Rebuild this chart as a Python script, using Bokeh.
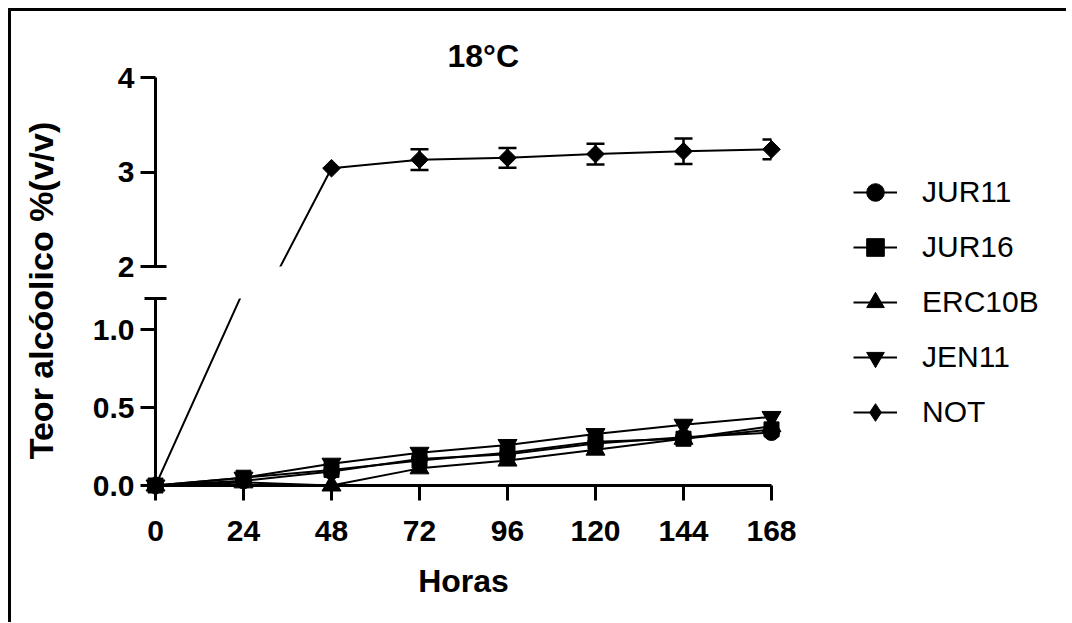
import math
from bokeh.plotting import figure
from bokeh.models import (Range1d, FixedTicker, PrintfTickFormatter, ColumnDataSource,
                          CDSView, BooleanFilter, Whisker, TeeHead, Legend, LegendItem, Label)
from bokeh.layouts import row, column
from bokeh.embed import file_html
from bokeh.resources import INLINE

# ---------------- data ----------------
hours = [0, 24, 48, 72, 96, 120, 144, 168]
jur11 = [0, 0.03, 0.09, 0.17, 0.20, 0.27, 0.31, 0.34]
jur16 = [0, 0.05, 0.10, 0.16, 0.21, 0.28, 0.30, 0.36]
erc10b = [0, 0.02, 0.00, 0.11, 0.16, 0.23, 0.30, 0.38]
jen11 = [0, 0.05, 0.14, 0.21, 0.26, 0.33, 0.39, 0.44]
not_mean = [0, 1.25, 3.04, 3.13, 3.15, 3.19, 3.22, 3.24]
not_err = [0, 0, 0, 0.11, 0.105, 0.11, 0.135, 0.105]
series_names = ["JUR11", "JUR16", "ERC10B", "JEN11", "NOT"]
x_ticks = [0, 24, 48, 72, 96, 120, 144, 168]
low_ticks = [0, 0.5, 1.0]
high_ticks = [2, 3, 4]
low_limits = (0, 1.2)
high_limits = (2, 4)
title_text = "18°C"
x_label = "Horas"
y_label = "Teor alcóolico %(v/v)"

# ---------------- style ----------------
FONT = "Liberation Sans"
TICK_FS = "30px"
styles = {
    "JUR11": ("circle", 16, 0.0),
    "JUR16": ("square", 15, 0.0),
    "ERC10B": ("triangle", 19, 0.0),
    "JEN11": ("inverted_triangle", 19, 0.0),
    "NOT": ("square", 12.5, math.pi / 4),
}
legend_markers = {"JUR11": "circle", "JUR16": "square", "ERC10B": "triangle",
                  "JEN11": "inverted_triangle", "NOT": "diamond"}
values = {"JUR11": jur11, "JUR16": jur16, "ERC10B": erc10b, "JEN11": jen11, "NOT": not_mean}


def style_axis(ax, ticks, fmt=None):
    ax.ticker = FixedTicker(ticks=ticks)
    if fmt:
        ax.formatter = PrintfTickFormatter(format=fmt)
    ax.axis_line_width = 3
    ax.major_tick_line_width = 3
    ax.major_tick_out = 15
    ax.major_tick_in = 0
    ax.minor_tick_line_color = None
    ax.major_label_text_font = FONT
    ax.major_label_text_font_style = "bold"
    ax.major_label_text_font_size = TICK_FS
    ax.major_label_text_color = "black"
    ax.axis_line_color = "black"
    ax.major_tick_line_color = "black"


x_range = Range1d(hours[0], hours[-1])

top = figure(width=729, height=271, x_range=x_range, y_range=Range1d(*high_limits),
             output_backend="svg", toolbar_location=None, x_axis_location=None,
             min_border_left=84, min_border_right=29, min_border_top=66, min_border_bottom=16)
bot = figure(width=729, height=340, x_range=x_range, y_range=Range1d(*low_limits),
             output_backend="svg", toolbar_location=None,
             min_border_left=84, min_border_right=29, min_border_top=16, min_border_bottom=137)

for f in (top, bot):
    f.grid.visible = False
    f.outline_line_color = None
    f.background_fill_color = "white"
    f.border_fill_color = "white"

style_axis(top.yaxis[0], high_ticks)
style_axis(bot.yaxis[0], low_ticks, "%.1f")
style_axis(bot.xaxis[0], x_ticks)
for ax in (top.yaxis[0], bot.yaxis[0]):
    ax.major_label_standoff = 6
xa = bot.xaxis[0]
xa.major_label_standoff = 20
xa.axis_label = x_label
xa.axis_label_text_font = FONT
xa.axis_label_text_font_style = "bold"
xa.axis_label_text_font_size = "32px"
xa.axis_label_text_color = "black"
xa.axis_label_standoff = 19

top.title.text = title_text
top.title.text_font = FONT
top.title.text_font_style = "bold"
top.title.text_font_size = "32px"
top.title.text_color = "black"
top.title.align = "left"
top.title.offset = 292
top.title.standoff = 8


def draw(fig, name, limits):
    ys = values[name]
    marker, size, angle = styles[name]
    src = ColumnDataSource(dict(x=hours, y=ys))
    fig.line("x", "y", source=src, line_color="black", line_width=2)
    mask = [limits[0] <= v <= limits[1] for v in ys]
    view = CDSView(filter=BooleanFilter(mask))
    fig.scatter("x", "y", source=src, view=view, marker=marker, size=size, angle=angle,
                fill_color="black", line_color="black", line_width=1, level="overlay")


# draw order: square on top
for name in ["NOT", "JEN11", "ERC10B", "JUR11", "JUR16"]:
    draw(bot, name, low_limits)
draw(top, "NOT", high_limits)

# error bars (NOT, visible in upper segment)
wx, wu, wl = [], [], []
for h, m, e in zip(hours, not_mean, not_err):
    if e > 0 and m >= high_limits[0]:
        wx.append(h); wu.append(m + e); wl.append(m - e)
wsrc = ColumnDataSource(dict(x=wx, upper=wu, lower=wl))
top.add_layout(Whisker(base="x", upper="upper", lower="lower", source=wsrc, dimension="height",
                       line_width=2.5, line_color="black",
                       upper_head=TeeHead(size=18, line_width=2.5, line_color="black"),
                       lower_head=TeeHead(size=18, line_width=2.5, line_color="black")))

# axis break caps
top.scatter(x=[hours[0]], y=[high_limits[0]], marker="dash", size=22, line_width=3,
            line_color="black", level="overlay")
bot.scatter(x=[hours[0]], y=[low_limits[1]], marker="dash", size=22, line_width=3,
            line_color="black", level="overlay")

# ---------------- y label figure ----------------
lab = figure(width=60, height=611, x_range=Range1d(0, 60), y_range=Range1d(0, 611),
             output_backend="svg", toolbar_location=None, x_axis_location=None,
             y_axis_location=None, min_border=0)
lab.grid.visible = False
lab.outline_line_color = None
lab.add_layout(Label(x=29, y=332, text=y_label, angle=math.pi / 2, text_align="center",
                     text_baseline="middle", text_font=FONT, text_font_style="bold",
                     text_font_size="34px", text_color="black"))

# ---------------- legend figure ----------------
# renderers carry the real series, but the figure's view lies far from the data,
# so only the legend glyphs show
leg = figure(width=266, height=611, x_range=Range1d(1000, 1001), y_range=Range1d(1000, 1001),
             output_backend="svg", toolbar_location=None, x_axis_location=None,
             y_axis_location=None, min_border=0)
leg.grid.visible = False
leg.outline_line_color = None
items = []
for name in series_names:
    src = ColumnDataSource(dict(x=hours, y=values[name]))
    lr = leg.line("x", "y", source=src, line_color="black", line_width=2)
    sr = leg.scatter("x", "y", source=src, marker=legend_markers[name], size=17,
                     fill_color="black", line_color="black")
    items.append(LegendItem(label=name, renderers=[lr, sr]))
legend = Legend(items=items, location=(53, 188), glyph_width=44, glyph_height=44,
                label_height=44, spacing=11, label_standoff=25, padding=0, margin=0,
                border_line_color=None, background_fill_alpha=0,
                label_text_font=FONT, label_text_font_size="30px", label_text_color="black")
leg.add_layout(legend)

layout = row(lab, column(top, bot), leg,
             styles={"border-left": "3px solid black", "border-top": "3px solid black",
                     "margin-left": "8px", "margin-top": "8px"})

open("out.html", "w").write(file_html(layout, INLINE))
